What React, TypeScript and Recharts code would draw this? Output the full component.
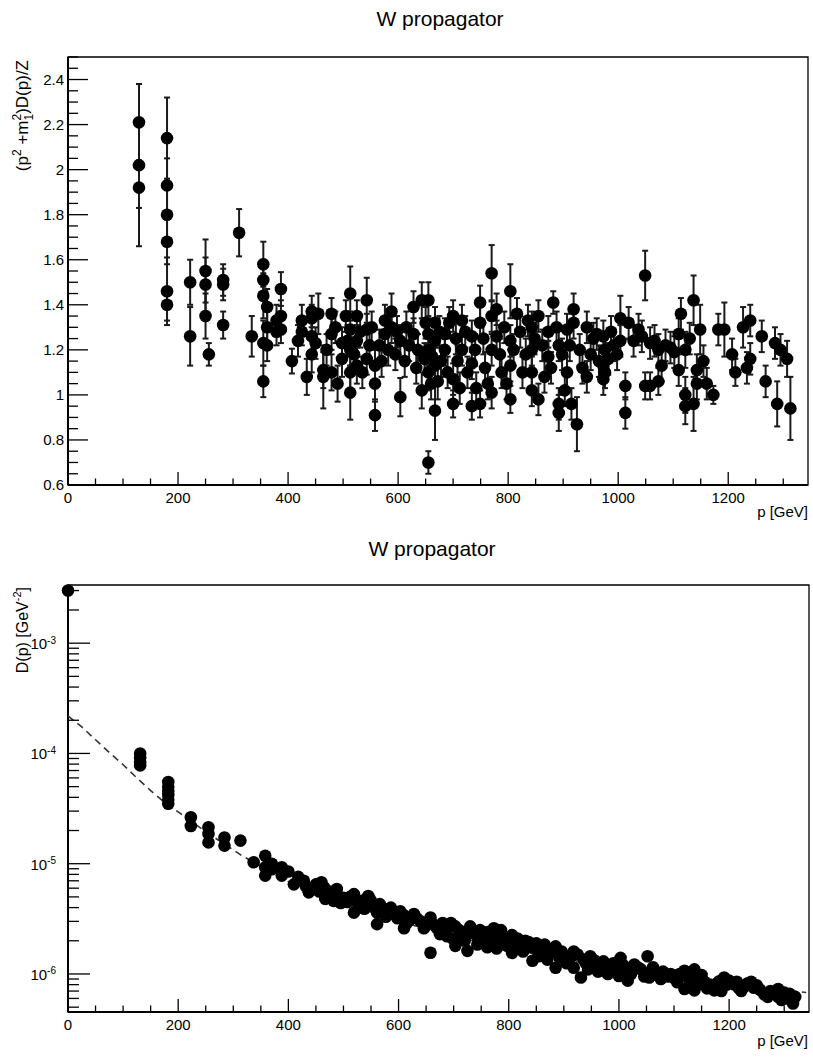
import React from 'react';
import { ScatterChart, Scatter, XAxis, YAxis, ErrorBar, ReferenceArea } from 'recharts';

// ---------- DATA ----------
const chartTitle = 'W propagator';
const xTitle = 'p [GeV]';

// top panel: [p (GeV), (p^2+m^2)D(p)/Z, error]
const topPoints: [number, number, number][] = [
  [129, 2.21, 0.17], [129, 2.02, 0.36], [129, 1.92, 0.09],
  [180, 2.14, 0.18], [180, 1.93, 0.12], [180, 1.8, 0.12], [180, 1.68, 0.1], [180, 1.46, 0.15], [180, 1.4, 0.07],
  [222, 1.5, 0.1], [222, 1.26, 0.13],
  [250, 1.55, 0.14], [250, 1.49, 0.12], [250, 1.35, 0.1], [256, 1.18, 0.05],
  [282, 1.51, 0.07], [282, 1.49, 0.07], [282, 1.31, 0.06],
  [311, 1.72, 0.105], [334, 1.26, 0.09],
  [355, 1.58, 0.1], [355, 1.51, 0.09], [355, 1.44, 0.1], [355, 1.23, 0.1], [355, 1.06, 0.07],
  [362, 1.39, 0.08], [362, 1.3, 0.08], [362, 1.22, 0.07],
  [379, 1.33, 0.07], [379, 1.28, 0.06],
  [387, 1.47, 0.075], [387, 1.35, 0.07], [387, 1.29, 0.06],
  [407, 1.15, 0.055], [418, 1.24, 0.07], [425, 1.33, 0.07], [425, 1.28, 0.06], [434, 1.08, 0.08],
  [443, 1.37, 0.07], [443, 1.34, 0.06], [443, 1.26, 0.07], [443, 1.18, 0.08], [450, 1.23, 0.07],
  [455, 1.36, 0.09], [464, 1.11, 0.08], [464, 1.08, 0.14], [470, 1.2, 0.07],
  [479, 1.36, 0.07], [479, 1.27, 0.07], [479, 1.1, 0.08], [486, 1.3, 0.07], [490, 1.05, 0.08],
  [498, 1.23, 0.07], [498, 1.16, 0.08], [505, 1.35, 0.07], [508, 1.24, 0.07],
  [513, 1.45, 0.12], [513, 1.29, 0.08], [513, 1.2, 0.07], [513, 1.1, 0.08], [513, 1.01, 0.12],
  [520, 1.18, 0.07], [525, 1.35, 0.07], [525, 1.24, 0.07], [525, 1.13, 0.08], [531, 1.28, 0.07], [535, 1.1, 0.07],
  [543, 1.42, 0.1], [543, 1.29, 0.07], [543, 1.16, 0.07], [548, 1.22, 0.07], [552, 1.3, 0.07],
  [558, 1.13, 0.07], [558, 1.05, 0.08], [558, 0.91, 0.07], [566, 1.22, 0.07], [570, 1.15, 0.07],
  [576, 1.33, 0.07], [576, 1.27, 0.07], [582, 1.2, 0.07], [588, 1.37, 0.08], [588, 1.3, 0.07],
  [595, 1.18, 0.07], [598, 1.28, 0.07],
  [604, 0.99, 0.085], [604, 1.24, 0.07], [612, 1.15, 0.07], [615, 1.3, 0.07], [620, 1.22, 0.07],
  [628, 1.39, 0.07], [628, 1.27, 0.07], [633, 1.12, 0.07], [636, 1.2, 0.07],
  [643, 1.42, 0.08], [643, 1.02, 0.08], [648, 1.16, 0.07], [650, 1.32, 0.07],
  [655, 0.7, 0.05], [655, 1.42, 0.08], [655, 1.27, 0.08], [655, 1.2, 0.07], [655, 1.1, 0.08],
  [660, 1.05, 0.07], [662, 1.17, 0.07],
  [667, 0.93, 0.13], [667, 1.13, 0.08], [667, 1.24, 0.08], [667, 1.32, 0.07],
  [672, 1.06, 0.08], [675, 1.28, 0.07], [678, 1.15, 0.07],
  [685, 1.2, 0.07], [685, 1.27, 0.07], [690, 1.1, 0.07], [693, 1.32, 0.07],
  [700, 1.35, 0.07], [700, 0.96, 0.06], [700, 1.07, 0.07], [705, 1.25, 0.07], [708, 1.15, 0.07], [712, 1.03, 0.07],
  [716, 1.33, 0.07], [716, 1.2, 0.07], [722, 1.28, 0.07], [726, 1.1, 0.07],
  [734, 0.95, 0.06], [734, 1.14, 0.07], [734, 1.26, 0.07], [740, 1.2, 0.07], [742, 1.03, 0.07],
  [749, 1.41, 0.075], [749, 1.32, 0.07], [749, 0.96, 0.06], [755, 1.25, 0.07], [758, 1.12, 0.07], [763, 1.05, 0.07],
  [770, 1.54, 0.125], [770, 1.35, 0.07], [770, 1.01, 0.07], [770, 1.2, 0.07],
  [779, 1.38, 0.07], [779, 1.26, 0.07], [785, 1.18, 0.07], [788, 1.1, 0.07], [793, 1.3, 0.07], [797, 1.05, 0.07],
  [804, 1.46, 0.12], [804, 0.98, 0.06], [804, 1.24, 0.07], [804, 1.13, 0.07], [810, 1.2, 0.07], [816, 1.36, 0.07],
  [822, 1.28, 0.07], [826, 1.1, 0.07], [832, 1.18, 0.07], [836, 1.33, 0.07],
  [843, 1.3, 0.07], [843, 1.2, 0.07], [843, 1.1, 0.07], [843, 1.02, 0.07], [848, 1.25, 0.07],
  [855, 1.35, 0.07], [855, 0.98, 0.07], [862, 1.22, 0.07], [866, 1.08, 0.07],
  [873, 1.28, 0.07], [873, 1.17, 0.07], [878, 1.12, 0.07], [882, 1.41, 0.05], [888, 1.3, 0.07],
  [892, 1.22, 0.07], [892, 0.96, 0.07], [892, 0.92, 0.08], [898, 1.18, 0.07], [903, 1.02, 0.07],
  [907, 1.29, 0.07], [907, 1.1, 0.07], [912, 1.22, 0.07], [915, 0.96, 0.07],
  [919, 1.38, 0.07], [919, 1.32, 0.07], [925, 0.87, 0.12], [930, 1.2, 0.07], [935, 1.12, 0.07],
  [943, 1.3, 0.07], [943, 1.08, 0.07], [950, 1.18, 0.07], [955, 1.25, 0.07], [961, 1.27, 0.07], [965, 1.15, 0.07],
  [973, 1.26, 0.07], [973, 1.13, 0.07], [973, 1.07, 0.07], [976, 1.1, 0.07], [976, 1.2, 0.07],
  [982, 1.16, 0.07], [987, 1.28, 0.07], [992, 1.22, 0.07], [998, 1.18, 0.07],
  [1004, 1.34, 0.1], [1004, 1.24, 0.07], [1013, 1.04, 0.06], [1013, 0.92, 0.07],
  [1019, 1.32, 0.07], [1028, 1.24, 0.07], [1037, 1.29, 0.07], [1043, 1.26, 0.07], [1049, 1.53, 0.11], [1049, 1.04, 0.06],
  [1058, 1.04, 0.06], [1058, 1.23, 0.07], [1066, 1.24, 0.07], [1073, 1.2, 0.07], [1073, 1.06, 0.06], [1079, 1.13, 0.07],
  [1086, 1.22, 0.07], [1095, 1.21, 0.07], [1102, 1.19, 0.07], [1110, 1.27, 0.07], [1110, 1.11, 0.07], [1114, 1.36, 0.07],
  [1122, 1.2, 0.08], [1122, 1.0, 0.08], [1122, 0.95, 0.08], [1130, 1.25, 0.07], [1137, 1.42, 0.11], [1137, 0.96, 0.12],
  [1143, 1.11, 0.07], [1143, 1.05, 0.07], [1149, 1.29, 0.11], [1155, 1.15, 0.07], [1161, 1.05, 0.07], [1173, 1.0, 0.04],
  [1182, 1.29, 0.07], [1193, 1.29, 0.12], [1207, 1.18, 0.07], [1213, 1.1, 0.06], [1227, 1.3, 0.09],
  [1234, 1.12, 0.07], [1240, 1.33, 0.07], [1240, 1.16, 0.07], [1261, 1.26, 0.07], [1268, 1.06, 0.07],
  [1285, 1.23, 0.07], [1289, 0.96, 0.1], [1295, 1.2, 0.07], [1307, 1.16, 0.08], [1313, 0.94, 0.14],
];

// bottom panel: [p (GeV), D(p) (GeV^-2)]
const bottomPoints: [number, number][] = [
  [0, 3.0e-3],
  [131, 1.0e-4], [131, 9.2e-5], [131, 8.4e-5], [131, 7.8e-5],
  [182, 5.5e-5], [182, 5.0e-5], [182, 4.6e-5], [182, 4.2e-5], [182, 3.8e-5], [182, 3.5e-5],
  [223, 2.64e-5], [223, 2.2e-5], [255, 2.14e-5], [255, 1.86e-5], [255, 1.56e-5],
  [284, 1.73e-5], [284, 1.46e-5], [313, 1.62e-5], [337, 1.03e-5],
  [358, 1.18e-5], [358, 9.3e-6], [358, 7.8e-6], [370, 1.0e-5], [370, 8.9e-6], [388, 9.3e-6], [388, 7.8e-6],
  [400, 8.5e-6], [410, 6.5e-6], [418, 7.6e-6], [428, 7.0e-6], [432, 6.2e-6], [437, 5.5e-6], [445, 5.9e-6],
  [450, 6.5e-6], [456, 5.6e-6], [460, 6.8e-6], [465, 6.1e-6], [467, 4.8e-6], [472, 5.2e-6],
  [475, 5.6e-6], [482, 5.5e-6], [482, 4.6e-6], [488, 5.9e-6], [492, 5.0e-6], [495, 4.4e-6], [500, 4.9e-6], [507, 4.5e-6],
  [512, 5.0e-6], [519, 5.3e-6], [519, 3.6e-6], [523, 4.7e-6], [527, 4.2e-6], [533, 4.6e-6], [538, 3.9e-6],
  [540, 4.4e-6], [545, 5.1e-6], [549, 4.7e-6], [555, 4.1e-6],
  [561, 2.83e-6], [561, 3.6e-6], [566, 4.3e-6], [573, 3.9e-6], [577, 3.3e-6], [582, 3.7e-6], [586, 4.0e-6],
  [591, 3.6e-6], [598, 3.2e-6], [603, 3.7e-6],
  [610, 2.6e-6], [610, 3.4e-6], [615, 2.9e-6], [620, 3.1e-6], [628, 3.5e-6], [633, 3.2e-6], [640, 3.0e-6], [646, 2.6e-6],
  [652, 2.9e-6], [658, 3.25e-6], [658, 1.56e-6], [664, 2.8e-6], [670, 2.6e-6], [675, 2.3e-6], [680, 2.9e-6],
  [688, 2.55e-6], [688, 2.2e-6], [695, 2.9e-6], [698, 2.1e-6],
  [703, 2.7e-6], [703, 1.8e-6], [710, 2.5e-6], [715, 2.2e-6], [720, 2.0e-6], [725, 2.3e-6], [725, 1.62e-6],
  [730, 2.7e-6], [735, 2.5e-6], [743, 2.2e-6], [743, 1.85e-6], [748, 2.5e-6], [752, 2.1e-6], [756, 1.9e-6],
  [761, 2.4e-6], [761, 1.75e-6], [767, 2.2e-6], [773, 2.6e-6], [773, 1.9e-6], [778, 1.7e-6],
  [782, 2.3e-6], [786, 2.5e-6], [791, 2.05e-6], [797, 1.8e-6], [800, 2.0e-6], [806, 2.25e-6], [806, 1.55e-6],
  [812, 1.75e-6], [816, 2.1e-6], [821, 1.9e-6], [826, 1.6e-6], [830, 2.0e-6], [836, 1.95e-6],
  [843, 1.74e-6], [843, 1.32e-6], [850, 1.9e-6], [854, 1.45e-6], [858, 1.62e-6], [862, 1.7e-6], [865, 1.85e-6],
  [870, 1.35e-6], [873, 1.55e-6], [878, 1.65e-6],
  [885, 1.78e-6], [885, 1.14e-6], [892, 1.4e-6], [896, 1.6e-6], [900, 1.48e-6], [905, 1.25e-6], [910, 1.35e-6],
  [914, 1.45e-6], [918, 1.6e-6], [918, 1.14e-6],
  [925, 1.5e-6], [931, 9.3e-7], [936, 1.35e-6], [940, 1.25e-6], [944, 1.1e-6], [948, 1.45e-6], [953, 1.35e-6],
  [958, 1.3e-6], [962, 1.05e-6], [967, 1.22e-6], [972, 1.3e-6], [975, 1.05e-6],
  [980, 1.0e-6], [985, 1.14e-6], [990, 1.25e-6], [995, 1.2e-6], [1000, 9.6e-7], [1003, 1.4e-6], [1008, 1.2e-6],
  [1010, 1.05e-6], [1016, 8.7e-7], [1022, 1.0e-6], [1028, 1.22e-6], [1034, 1.15e-6],
  [1040, 1.1e-6], [1046, 9.5e-7], [1052, 1.45e-6], [1055, 9.3e-7], [1058, 1.05e-6], [1062, 1.15e-6], [1070, 9.8e-7],
  [1076, 9.0e-7], [1080, 1.05e-6], [1089, 9.5e-7], [1094, 1.0e-6], [1100, 9.2e-7], [1106, 8.4e-7], [1110, 1.0e-6],
  [1119, 1.07e-6], [1119, 7.3e-7], [1124, 9.5e-7], [1128, 8.8e-7],
  [1137, 1.1e-6], [1137, 7.1e-7], [1142, 8.0e-7], [1146, 9.6e-7], [1150, 9.8e-7], [1155, 8.5e-7], [1160, 7.4e-7],
  [1165, 8.0e-7], [1173, 7.1e-7], [1178, 8.2e-7], [1182, 8.6e-7], [1186, 7.0e-7], [1191, 9.3e-7], [1196, 8.0e-7],
  [1200, 8.7e-7], [1209, 8.05e-7], [1214, 8.5e-7], [1218, 7.4e-7], [1222, 7.0e-7], [1227, 7.6e-7],
  [1233, 8.2e-7], [1240, 8.5e-7], [1245, 7.5e-7], [1250, 7.9e-7], [1256, 7.2e-7], [1264, 6.5e-7], [1270, 6.2e-7],
  [1275, 7.0e-7], [1282, 6.8e-7], [1289, 7.3e-7], [1289, 6.2e-7], [1295, 5.8e-7], [1300, 6.8e-7], [1305, 6.0e-7],
  [1310, 6.6e-7], [1316, 5.4e-7], [1320, 6.2e-7],
];

// dashed fit curve: [p, D]
const fitCurve: [number, number][] = [
  [0, 2.19e-4], [25, 1.74e-4], [50, 1.33e-4], [75, 1.02e-4], [100, 7.9e-5], [125, 6.0e-5],
  [150, 4.6e-5], [175, 3.6e-5], [200, 2.95e-5], [250, 1.95e-5], [316, 1.18e-5], [400, 6.9e-6],
  [500, 4.4e-6], [600, 3.0e-6], [700, 2.2e-6], [800, 1.7e-6], [900, 1.35e-6], [1000, 1.1e-6],
  [1100, 9.3e-7], [1200, 7.9e-7], [1340, 6.8e-7],
];

const xMajorTicks = [0, 200, 400, 600, 800, 1000, 1200];
const topYMajorTicks = [0.6, 0.8, 1, 1.2, 1.4, 1.6, 1.8, 2, 2.2, 2.4];
const logMajorTicks = [1e-6, 1e-5, 1e-4, 1e-3];
const logMajorLabels = ['-6', '-5', '-4', '-3'];

const xDomain: [number, number] = [0, 1345];
const topYDomain: [number, number] = [0.6, 2.5];
const botYDomain: [number, number] = [4.52e-7, 3.37e-3];

// ---------- helpers ----------
const FONT = '"Liberation Sans", Arial, Helvetica, sans-serif';
const xAllTicks: number[] = [];
for (let v = 0; v <= 1340; v += 50) xAllTicks.push(v);
const topYAllTicks: number[] = [];
for (let i = 0; i <= 38; i++) topYAllTicks.push(Math.round((0.6 + i * 0.05) * 1000) / 1000);
const logAllTicks: number[] = [];
for (let e = -7; e <= -3; e++) {
  for (let k = 1; k <= 9; k++) {
    const v = Number((k * Math.pow(10, e)).toPrecision(3));
    if (v >= botYDomain[0] && v <= botYDomain[1]) logAllTicks.push(v);
  }
}

const near = (a: number, b: number) => Math.abs(a - b) < 1e-9 * Math.max(1, Math.abs(b));
const nearRel = (a: number, b: number) => Math.abs(a - b) / b < 1e-6;

const XTick = (props: any) => {
  const { x, y, payload } = props;
  const v = payload.value;
  const major = xMajorTicks.some((m) => near(m, v));
  return (
    <g>
      <line x1={x} x2={x} y1={y} y2={y - (major ? 13 : 6.5)} stroke="#000" strokeWidth={1.3} />
      {major && (
        <text x={x} y={y + 18} textAnchor="middle" fontSize={15} fontFamily={FONT} fill="#000">
          {v}
        </text>
      )}
    </g>
  );
};

const TopYTick = (props: any) => {
  const { x, y, payload } = props;
  const v = payload.value;
  const major = topYMajorTicks.some((m) => near(m, v));
  return (
    <g>
      <line x1={x} x2={x + (major ? 20 : 10)} y1={y} y2={y} stroke="#000" strokeWidth={1.3} />
      {major && (
        <text x={x - 4} y={y} dy="0.36em" textAnchor="end" fontSize={15} fontFamily={FONT} fill="#000">
          {String(v)}
        </text>
      )}
    </g>
  );
};

const LogYTick = (props: any) => {
  const { x, y, payload } = props;
  const v = payload.value;
  const idx = logMajorTicks.findIndex((m) => nearRel(v, m));
  const major = idx >= 0;
  return (
    <g>
      <line x1={x} x2={x + (major ? 22 : 11)} y1={y} y2={y} stroke="#000" strokeWidth={1.3} />
      {major && (
        <text x={x - 12} y={y} dy="0.4em" textAnchor="end" fontSize={15} fontFamily={FONT} fill="#000">
          <tspan>10</tspan>
          <tspan dy="-0.55em" fontSize={10}>{logMajorLabels[idx]}</tspan>
        </text>
      )}
    </g>
  );
};

const Dot = (props: any) => {
  const { cx, cy } = props;
  if (cx == null || cy == null) return <g />;
  return <circle cx={cx} cy={cy} r={6.3} fill="#000" />;
};
const NoDot = () => <g />;

const topData = topPoints.map(([p, v, err]) => ({ p, v, err }));
const botData = bottomPoints.map(([p, d]) => ({ p, d }));
const fitData = fitCurve.map(([p, d]) => ({ p, d }));

const W = 813;
const H = 528;

export default function App() {
  return (
    <div style={{ position: 'absolute', left: 0, top: 0, width: W, height: 1057, background: '#fff' }}>
      <div style={{ position: 'absolute', left: 0, top: 0 }}>
        <ScatterChart width={W} height={H} margin={{ top: 57, right: 5, bottom: 13, left: 8 }}>
          <XAxis
            dataKey="p"
            type="number"
            domain={xDomain}
            ticks={xAllTicks}
            interval={0}
            tickSize={0}
            tickMargin={0}
            tick={<XTick />}
            height={30}
            axisLine={{ stroke: '#000', strokeWidth: 2 }}
          />
          <YAxis
            dataKey="v"
            type="number"
            domain={topYDomain}
            ticks={topYAllTicks}
            interval={0}
            tickSize={0}
            tickMargin={0}
            tick={<TopYTick />}
            width={60}
            axisLine={{ stroke: '#000', strokeWidth: 2 }}
          />
          <ReferenceArea x1={xDomain[0]} x2={xDomain[1]} y1={topYDomain[0]} y2={topYDomain[1]} fill="none" stroke="#000" strokeWidth={1.3} fillOpacity={0} />
          <Scatter data={topData} dataKey="v" fill="#000" shape={<Dot />} isAnimationActive={false}>
            <ErrorBar dataKey="err" direction="y" width={3} stroke="#1a1a1a" strokeWidth={2} />
          </Scatter>
        </ScatterChart>
      </div>
      <div style={{ position: 'absolute', left: 0, top: H }}>
        <ScatterChart width={W} height={529} margin={{ top: 57, right: 4, bottom: 15, left: 8 }}>
          <XAxis
            dataKey="p"
            type="number"
            domain={xDomain}
            ticks={xAllTicks}
            interval={0}
            tickSize={0}
            tickMargin={0}
            tick={<XTick />}
            height={30}
            axisLine={{ stroke: '#000', strokeWidth: 2 }}
          />
          <YAxis
            dataKey="d"
            type="number"
            scale="log"
            domain={botYDomain}
            ticks={logAllTicks}
            interval={0}
            tickSize={0}
            tickMargin={0}
            tick={<LogYTick />}
            width={60}
            axisLine={{ stroke: '#000', strokeWidth: 2 }}
          />
          <ReferenceArea x1={xDomain[0]} x2={xDomain[1]} y1={botYDomain[0]} y2={botYDomain[1]} fill="none" stroke="#000" strokeWidth={1.3} fillOpacity={0} />
          <Scatter
            data={fitData}
            dataKey="d"
            fill="#333"
            shape={<NoDot />}
            line={{ stroke: '#333', strokeWidth: 1.6, strokeDasharray: '7 5' }}
            lineType="joint"
            isAnimationActive={false}
          />
          <Scatter data={botData} dataKey="d" fill="#000" shape={<Dot />} isAnimationActive={false} />
        </ScatterChart>
      </div>
      <svg width={W} height={1057} style={{ position: 'absolute', left: 0, top: 0, pointerEvents: 'none' }}>
        <g fontFamily={FONT} fill="#000">
          <text x={440} y={26} textAnchor="middle" fontSize={21}>{chartTitle}</text>
          <text x={432} y={556} textAnchor="middle" fontSize={21}>{chartTitle}</text>
          <text x={808} y={517} textAnchor="end" fontSize={15}>{xTitle}</text>
          <text x={808} y={1046} textAnchor="end" fontSize={15}>{xTitle}</text>
          <text transform="translate(28,60) rotate(-90)" textAnchor="end" fontSize={17}>
            <tspan>(p</tspan>
            <tspan dy={-7} fontSize={12}>2</tspan>
            <tspan dy={7}> +m</tspan>
            <tspan dy={5} fontSize={12}>1</tspan>
            <tspan dx={-6.7} dy={-12} fontSize={12}>2</tspan>
            <tspan dy={7}>)D(p)/Z</tspan>
          </text>
          <text transform="translate(28,587) rotate(-90)" textAnchor="end" fontSize={16}>
            <tspan>D(p) [GeV</tspan>
            <tspan dy={-7} fontSize={11}>-2</tspan>
            <tspan dy={7}>]</tspan>
          </text>
        </g>
      </svg>
    </div>
  );
}
